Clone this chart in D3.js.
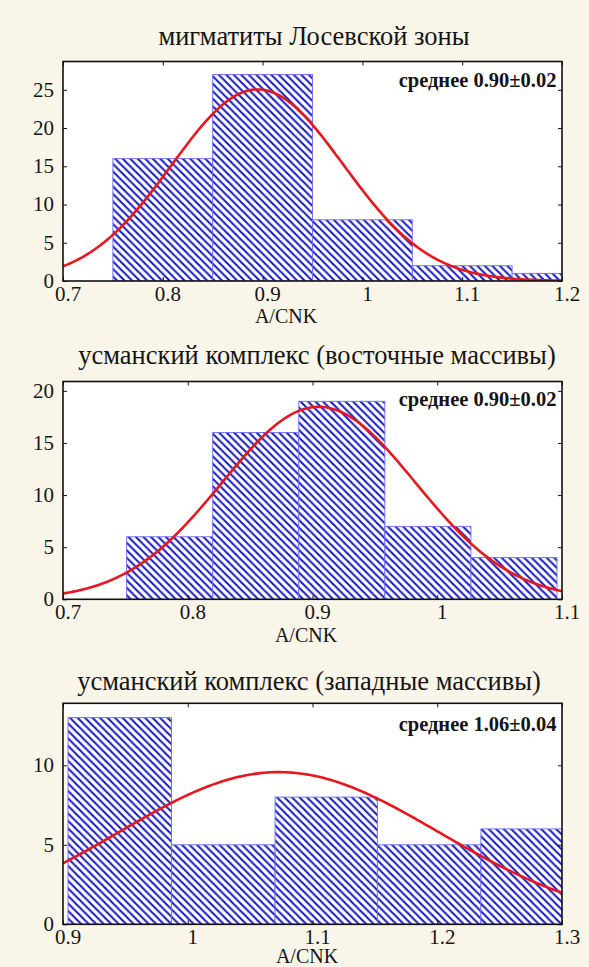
<!DOCTYPE html>
<html>
<head>
<meta charset="utf-8">
<script src="https://cdn.jsdelivr.net/npm/d3@7"></script>
<style>
  html, body { margin: 0; padding: 0; background: #f9f6e9; }
  svg { display: block; }
  text { font-family: "Liberation Serif", "Times New Roman", serif; fill: #151515; }
</style>
</head>
<body>
<svg id="fig" width="589" height="967"></svg>
<script>
// Panel titles and annotations
const titles = [
  "мигматиты Лосевской зоны",
  "усманский комплекс (восточные массивы)",
  "усманский комплекс (западные массивы)"
];
const notes = ["среднее 0.90±0.02", "среднее 0.90±0.02", "среднее 1.06±0.04"];
const axisLabel = "A/CNK";

// Histogram bin edges and counts
const binEdges1 = [0.75, 0.85, 0.95, 1.05, 1.15, 1.25];
const counts1   = [16, 27, 8, 2, 1];
const binEdges2 = [0.751, 0.820, 0.889, 0.958, 1.027, 1.096];
const counts2   = [6, 16, 19, 7, 4];
const binEdges3 = [0.904, 0.987, 1.070, 1.152, 1.235, 1.318];
const counts3   = [13, 5, 8, 5, 6];

// Fitted normal curves: [mean, standard deviation]
const fit1 = [0.895, 0.086];
const fit2 = [0.905, 0.0775];
const fit3 = [1.073, 0.128];

// Axis ranges and tick values
const xDomain1 = [0.7, 1.2];
const xDomain2 = [0.7, 1.1];
const xDomain3 = [0.9, 1.3];
const yMax = [28.7, 20.9, 13.9];
const xTicks1 = [0.7, 0.8, 0.9, 1, 1.1, 1.2];
const xTicks2 = [0.7, 0.8, 0.9, 1, 1.1];
const xTicks3 = [0.9, 1, 1.1, 1.2, 1.3];
const yTicks1 = [0, 5, 10, 15, 20, 25];
const yTicks2 = [0, 5, 10, 15, 20];
const yTicks3 = [0, 5, 10];

// Page geometry for each panel
const plotLeft = 63, plotRight = 562;
const layout = [
  { top: 61.5,  bottom: 281,   titleX: 314, titleY: 44.5,  noteY: 86.5,  labelX: 286, labelY: 323 },
  { top: 381.5, bottom: 599.3, titleX: 317, titleY: 363.5, noteY: 405.5, labelX: 306, labelY: 642 },
  { top: 703.3, bottom: 924.3, titleX: 309, titleY: 689.5, noteY: 730.5, labelX: 307, labelY: 962.5 }
];

const panels = [
  { edges: binEdges1, counts: counts1, fit: fit1, xDomain: xDomain1, xTicks: xTicks1, yTicks: yTicks1 },
  { edges: binEdges2, counts: counts2, fit: fit2, xDomain: xDomain2, xTicks: xTicks2, yTicks: yTicks2 },
  { edges: binEdges3, counts: counts3, fit: fit3, xDomain: xDomain3, xTicks: xTicks3, yTicks: yTicks3 }
];

const svg = d3.select("#fig");
const defs = svg.append("defs");

// Diagonal hatch used to fill the bars
const P = 7.5;
const hatch = defs.append("pattern")
  .attr("id", "hatch")
  .attr("patternUnits", "userSpaceOnUse")
  .attr("width", P).attr("height", P);
hatch.append("rect").attr("width", P).attr("height", P).attr("fill", "#ffffff");
hatch.append("path")
  .attr("d", `M-1,-1 L${P + 1},${P + 1} M-1,${P - 1} L1,${P + 1} M${P - 1},-1 L${P + 1},1`)
  .attr("stroke", "#1d1dbb")
  .attr("stroke-width", 2.1)
  .attr("fill", "none");

const tickFmt = d => d3.format(".1f")(d).replace(/\.0$/, "");

panels.forEach((p, i) => {
  const L = layout[i];
  const w = plotRight - plotLeft, h = L.bottom - L.top;
  const x = d3.scaleLinear().domain(p.xDomain).range([0, w]);
  const y = d3.scaleLinear().domain([0, yMax[i]]).range([h, 0]);

  // Title above the panel
  svg.append("text")
    .attr("x", L.titleX).attr("y", L.titleY)
    .attr("text-anchor", "middle")
    .attr("font-size", 26.5)
    .text(titles[i]);

  const g = svg.append("g").attr("transform", `translate(${plotLeft},${L.top})`);

  defs.append("clipPath").attr("id", "clip" + i)
    .append("rect").attr("width", w).attr("height", h);

  g.append("rect").attr("width", w).attr("height", h).attr("fill", "#ffffff");

  // Histogram bars
  const bins = p.counts.map((c, k) => ({ x0: p.edges[k], x1: p.edges[k + 1], n: c }));
  g.append("g").attr("clip-path", `url(#clip${i})`)
    .selectAll("rect").data(bins).join("rect")
    .attr("x", d => x(d.x0))
    .attr("y", d => y(d.n))
    .attr("width", d => x(d.x1) - x(d.x0))
    .attr("height", d => y(0) - y(d.n))
    .attr("fill", "url(#hatch)")
    .attr("stroke", "#6a6aff")
    .attr("stroke-width", 0.9);

  // Fitted normal curve scaled to counts
  const total = d3.sum(p.counts);
  const bw = p.edges[1] - p.edges[0];
  const [mu, sd] = p.fit;
  const amp = total * bw / (sd * Math.sqrt(2 * Math.PI));
  const steps = 240;
  const pts = d3.range(steps + 1).map(k => {
    const xv = p.xDomain[0] + (p.xDomain[1] - p.xDomain[0]) * k / steps;
    return [xv, amp * Math.exp(-((xv - mu) ** 2) / (2 * sd * sd))];
  });
  g.append("path")
    .datum(pts)
    .attr("clip-path", `url(#clip${i})`)
    .attr("fill", "none")
    .attr("stroke", "#e8161e")
    .attr("stroke-width", 2.6)
    .attr("d", d3.line().x(d => x(d[0])).y(d => y(d[1])));

  // Axes with inward ticks
  const xb = g.append("g").attr("transform", `translate(0,${h})`)
    .call(d3.axisBottom(x).tickValues(p.xTicks).tickFormat(tickFmt).tickSizeInner(-4).tickSizeOuter(0));
  xb.selectAll("text").attr("x", 4.5).attr("y", 20).attr("dy", 0).attr("font-size", 21).attr("fill", "#151515");

  const yl = g.append("g")
    .call(d3.axisLeft(y).tickValues(p.yTicks).tickSizeInner(-4).tickSizeOuter(0));
  yl.selectAll("text").attr("x", -9).attr("dy", "0.3em").attr("font-size", 21).attr("fill", "#151515");

  g.append("g").call(d3.axisTop(x).tickValues(p.xTicks).tickFormat("").tickSizeInner(-4).tickSizeOuter(0));
  g.append("g").attr("transform", `translate(${w},0)`)
    .call(d3.axisRight(y).tickValues(p.yTicks).tickFormat("").tickSizeInner(-4).tickSizeOuter(0));

  g.selectAll(".domain").remove();
  g.selectAll(".tick line").attr("stroke", "#111").attr("stroke-width", 1);

  // Plot frame
  g.append("rect").attr("width", w).attr("height", h)
    .attr("fill", "none").attr("stroke", "#111").attr("stroke-width", 1.6);

  // Mean annotation
  svg.append("text")
    .attr("x", plotRight - 5.5).attr("y", L.noteY)
    .attr("text-anchor", "end")
    .attr("font-size", 20.5)
    .attr("font-weight", "bold")
    .text(notes[i]);

  // X axis label
  svg.append("text")
    .attr("x", L.labelX).attr("y", L.labelY)
    .attr("text-anchor", "middle")
    .attr("font-size", 20)
    .text(axisLabel);
});
</script>
</body>
</html>
